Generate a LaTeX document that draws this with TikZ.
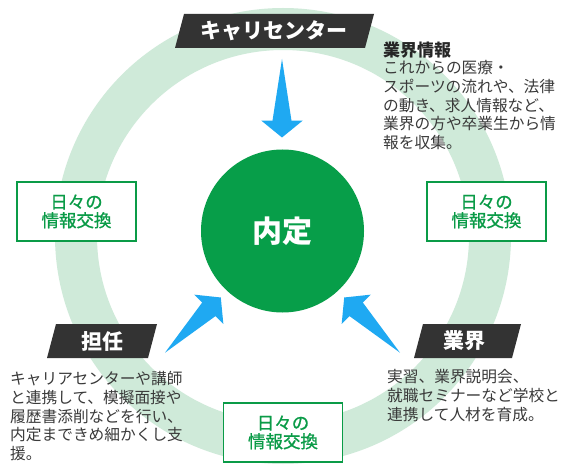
\documentclass[tikz,border=0pt]{standalone}
\usepackage{fontspec}
\setmainfont{Noto Sans CJK JP}
\newfontfamily\jpmedium[FakeBold=0.9]{Noto Sans CJK JP}
\definecolor{ringgreen}{HTML}{CFEAD9}
\definecolor{maingreen}{HTML}{079E49}
\definecolor{boxgreen}{HTML}{0A9B47}
\definecolor{bannergray}{HTML}{333333}
\definecolor{arrowblue}{HTML}{1FA9F2}
\definecolor{bodygray}{HTML}{3A3A3A}
\newcommand{\blockarrow}[2]{%
  \fill[arrowblue, shift={#1}, rotate=#2]
    (0,0) -- (61.7,-9.5) -- (61.7,-20.6) -- (78.5,0) -- (61.7,20.6) -- (61.7,9.5) -- cycle;}
\begin{document}
\begin{tikzpicture}[x=1pt,y=-1pt,
  ring/.style={draw=ringgreen, line width=42pt},
  bannerfill/.style={fill=bannergray},
  bannertext/.style={text=white, inner sep=0pt, font=\fontsize{21}{21}\selectfont\bfseries},
  infobox/.style={draw=boxgreen, line width=1.6pt, fill=white, minimum width=119pt,
     minimum height=59pt, align=center, inner sep=0pt, text=boxgreen,
     font=\jpmedium\fontsize{17.5}{18.5}\selectfont},
  bodytext/.style={anchor=north west, inner sep=0pt, align=left, text=bodygray,
     font=\fontsize{15.7}{18.6}\selectfont},
  headtext/.style={anchor=north west, inner sep=0pt, text=black!85,
     font=\fontsize{17}{17}\selectfont\bfseries},
  core/.style={circle, fill=maingreen, minimum size=163pt, inner sep=0pt, text=white,
     font=\fontsize{30}{30}\selectfont\bfseries}
]
\useasboundingbox[fill=white] (0,0) rectangle (572,470);
% ring
\draw[ring] (283,236) circle[radius=207];
% center
\node[core] (naitei) at (282.5,231) {内定};
% banners
\fill[bannerfill] (184,14) -- (374,14) -- (365,48) -- (175,48) -- cycle;
\node[bannertext] (career) at (274,31) {キャリセンター};
\fill[bannerfill] (56,324) -- (157,324) -- (148,358) -- (47,358) -- cycle;
\node[bannertext] (tannin) at (102,341) {担任};
\fill[bannerfill] (423,324) -- (521,324) -- (512,358) -- (414,358) -- cycle;
\node[bannertext] (gyokai) at (464,341) {業界};
% arrows
\coordinate (atop) at (282,59);
\coordinate (aleft) at (165,352.7);
\coordinate (aright) at (400,352.7);
\blockarrow{(atop)}{-90}
\blockarrow{(aleft)}{44.7}
\blockarrow{(aright)}{135.3}
% info boxes
\node[infobox] (boxL) at (76.5,211.5) {日々の\\情報交換};
\node[infobox] (boxR) at (486.5,211.5) {日々の\\情報交換};
\node[infobox] (boxB) at (283,432.5) {日々の\\情報交換};
% texts
\node[headtext] (infohead) at (383,41.5) {業界情報};
\node[bodytext] (infobody) at (383,60.5) {これからの医療・\\スポーツの流れや、法律\\の動き、求人情報など、\\業界の方や卒業生から情\\報を収集。};
\node[bodytext] (tanninbody) at (10,371.5) {キャリアセンターや講師\\と連携して、模擬面接や\\履歴書添削などを行い、\\内定まできめ細かくし支\\援。};
\node[bodytext] (gyokaibody) at (387,369.5) {実習、業界説明会、\\就職セミナーなど学校と\\連携して人材を育成。};
\end{tikzpicture}
\end{document}
